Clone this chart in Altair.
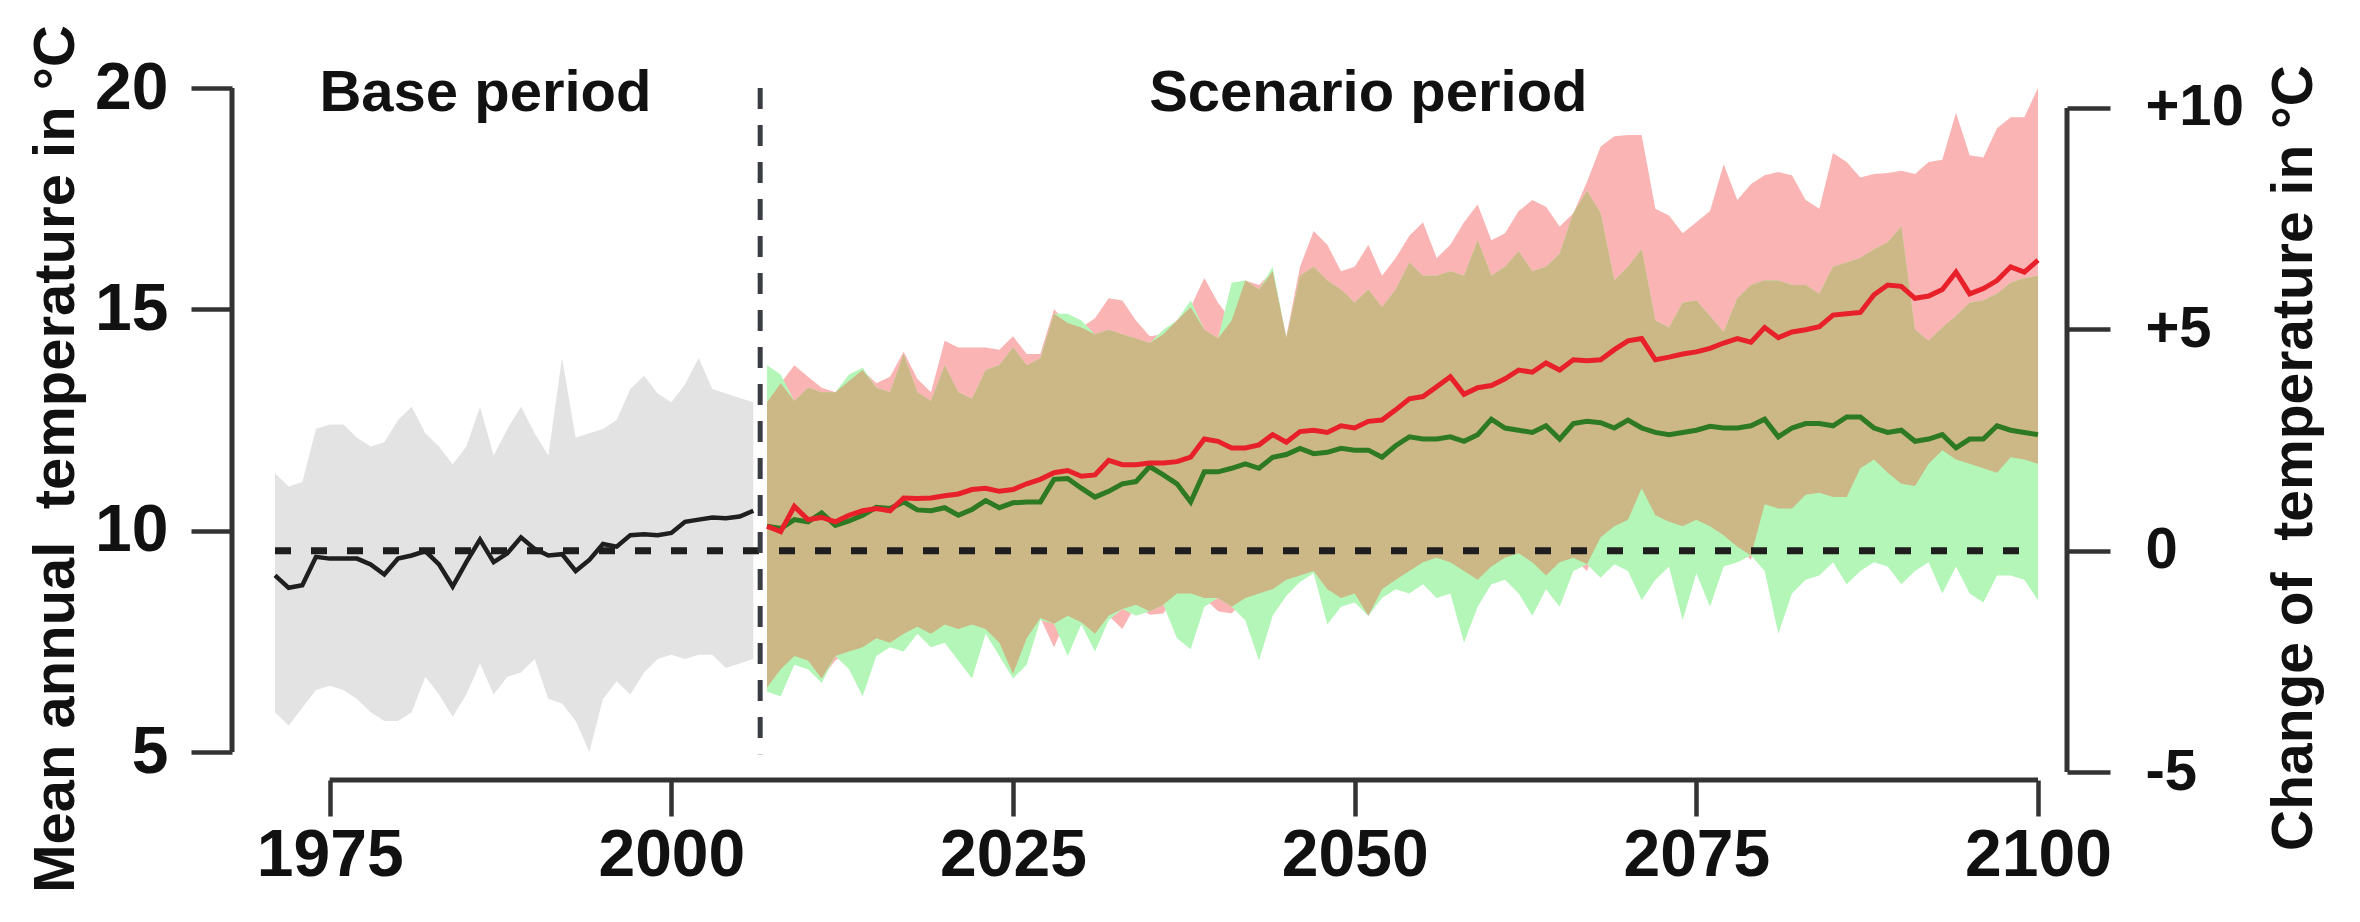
import altair as alt
import pandas as pd

# ---------------- data ----------------
base_years = list(range(1971, 2007))
gray_upper = [11.3, 11.0, 11.1, 12.3, 12.4, 12.4, 12.1, 11.9, 12.0, 12.5,
              12.8, 12.2, 11.9, 11.5, 11.9, 12.8, 11.7, 12.3, 12.8, 12.2,
              11.7, 13.9, 12.1, 12.2, 12.3, 12.5, 13.2, 13.5, 13.1, 12.9,
              13.3, 13.9, 13.2, 13.1, 13.0, 12.9]
gray_lower = [5.9, 5.6, 6.0, 6.4, 6.5, 6.4, 6.2, 5.9, 5.7, 5.7,
              5.9, 6.7, 6.3, 5.8, 6.3, 7.0, 6.3, 6.7, 6.8, 7.1,
              6.2, 6.1, 5.7, 5.0, 6.2, 6.6, 6.3, 6.8, 7.1, 7.2,
              7.1, 7.2, 7.2, 6.9, 7.0, 7.1]
black_mean = [8.99, 8.71, 8.77, 9.41, 9.37, 9.37, 9.37, 9.24, 9.01, 9.37,
              9.44, 9.54, 9.24, 8.74, 9.29, 9.80, 9.29, 9.49, 9.85, 9.59,
              9.44, 9.47, 9.09, 9.34, 9.70, 9.64, 9.90, 9.92, 9.90, 9.95,
              10.20, 10.25, 10.30, 10.28, 10.32, 10.45]

scen_years = list(range(2007, 2101))
red_mean = [10.10, 9.98, 10.55, 10.25, 10.30, 10.20, 10.35, 10.45, 10.50, 10.45,
            10.74, 10.73, 10.74, 10.79, 10.83, 10.93, 10.96, 10.89, 10.93, 11.06,
            11.16, 11.31, 11.36, 11.23, 11.26, 11.59, 11.49, 11.49, 11.53,
            11.53, 11.56, 11.66, 12.07, 12.02, 11.87, 11.87, 11.94, 12.17, 12.00,
            12.24, 12.27, 12.22, 12.37, 12.32, 12.47, 12.50, 12.73, 12.98, 13.03,
            13.25, 13.48, 13.08, 13.23, 13.28, 13.43, 13.63, 13.58, 13.79, 13.63,
            13.86, 13.84,
            13.86, 14.09, 14.29, 14.34, 13.86, 13.92, 13.99, 14.04, 14.12, 14.24,
            14.34, 14.26, 14.59, 14.36, 14.49, 14.54, 14.61, 14.87, 14.90, 14.93,
            15.33, 15.55, 15.52, 15.25, 15.30, 15.45, 15.84, 15.35, 15.47, 15.65,
            15.96, 15.84, 16.11]
green_mean = [10.10, 10.05, 10.25, 10.20, 10.40, 10.12, 10.22, 10.35, 10.53, 10.50,
              10.65, 10.47, 10.45, 10.52, 10.35, 10.48, 10.68, 10.52, 10.63, 10.65,
              10.65, 11.16, 11.18, 10.96, 10.76, 10.89, 11.06, 11.11, 11.45,
              11.26, 11.06, 10.65, 11.33, 11.33, 11.41, 11.51, 11.41, 11.66, 11.72,
              11.86, 11.74, 11.77, 11.86, 11.82, 11.82, 11.66, 11.92, 12.12, 12.07,
              12.07, 12.12, 12.02, 12.17, 12.52, 12.32, 12.27, 12.22, 12.37, 12.07,
              12.42, 12.47,
              12.44, 12.32, 12.50, 12.32, 12.22, 12.17, 12.22, 12.27, 12.36, 12.32,
              12.32, 12.37, 12.52, 12.12, 12.32, 12.42, 12.42, 12.37, 12.57, 12.57,
              12.32, 12.22, 12.27, 12.02, 12.07, 12.17, 11.87, 12.07, 12.07, 12.37,
              12.27, 12.22, 12.17]
red_upper = [12.90, 13.33, 13.74, 13.48, 13.23, 13.13, 13.38, 13.63, 13.33, 13.48,
             14.04, 13.43, 13.13, 14.29, 14.14, 14.14, 14.14, 14.09, 14.39, 13.99,
             13.99, 15.00, 14.69, 14.59, 14.80, 15.25, 15.20, 14.75, 14.39,
             14.44, 14.75, 15.05, 15.71, 15.15, 14.75, 15.65, 15.55, 15.86, 14.39,
             15.96, 16.77, 16.46, 15.86, 15.96, 16.46, 15.76, 16.16, 16.66, 16.97,
             16.16, 16.46, 16.97, 17.37, 16.56, 16.72, 17.22, 17.47, 17.32, 16.87,
             17.17, 17.88,
             18.68, 18.91, 18.94, 18.94, 17.27, 17.12, 16.72, 16.97, 17.22, 18.28,
             17.47, 17.83, 18.03, 18.10, 18.03, 17.47, 17.27, 18.53, 18.33, 17.98,
             18.06, 18.08, 18.13, 18.06, 18.33, 18.38, 19.44, 18.48, 18.43, 19.09,
             19.34, 19.34, 20.00]
red_lower = [6.46, 6.87, 7.17, 7.07, 6.66, 7.07, 7.27, 7.37, 7.57, 7.47,
             7.67, 7.83, 7.67, 7.88, 7.78, 7.88, 7.78, 7.47, 6.77, 7.57,
             8.03, 7.37, 8.08, 7.93, 7.67, 8.08, 7.78, 8.33, 8.10,
             8.13, 8.58, 8.58, 8.48, 8.18, 8.13, 8.48, 8.58, 8.68, 8.89,
             8.99, 9.09, 8.68, 8.48, 8.58, 8.08, 8.68, 8.89, 9.09, 9.29,
             9.39, 9.29, 9.09, 8.89, 9.19, 9.39, 9.49, 9.29, 8.99, 9.29,
             9.39, 9.09,
             9.85, 10.10, 10.25, 10.96, 10.35, 10.20, 10.10, 10.25, 10.10, 9.90,
             9.64, 9.34, 10.60, 10.50, 10.50, 10.81, 10.86, 10.76, 10.76, 11.41,
             11.61, 11.31, 11.06, 11.01, 11.51, 11.82, 11.61, 11.51, 11.41, 11.31,
             11.66, 11.61, 11.51]
green_upper = [13.74, 13.53, 12.93, 13.23, 13.13, 13.13, 13.53, 13.68, 13.23, 13.13,
               13.99, 13.13, 12.93, 13.74, 13.13, 12.98, 13.63, 13.74, 14.14, 13.74,
               13.89, 14.90, 14.90, 14.75, 14.44, 14.54, 14.44, 14.34, 14.24,
               14.54, 14.75, 15.20, 14.54, 14.34, 15.60, 15.65, 15.45, 15.96, 14.34,
               15.76, 15.96, 15.65, 15.45, 15.15, 15.45, 15.05, 15.45, 16.06, 15.76,
               15.76, 15.86, 15.76, 16.56, 15.76, 15.96, 16.31, 15.86, 15.96, 16.26,
               17.17, 17.68,
               17.17, 15.65, 15.96, 16.36, 14.75, 14.59, 15.15, 15.20, 14.85, 14.49,
               15.25, 15.55, 15.65, 15.65, 15.55, 15.55, 15.35, 15.96, 16.06, 16.16,
               16.36, 16.51, 16.87, 14.54, 14.29, 14.59, 14.85, 15.15, 15.20, 15.35,
               15.60, 15.70, 15.76]
green_lower = [6.36, 6.26, 6.97, 6.87, 6.56, 7.17, 6.87, 6.26, 7.17, 7.37,
               7.27, 7.67, 7.37, 7.47, 7.07, 6.66, 7.67, 7.17, 6.66, 6.97,
               7.98, 7.90, 7.17, 7.88, 7.27, 7.98, 8.23, 8.08, 8.18,
               8.33, 7.57, 7.32, 8.28, 8.48, 8.28, 7.98, 7.07, 8.08, 8.53,
               8.84, 9.04, 7.88, 8.28, 8.38, 8.08, 8.48, 8.68, 8.58, 8.79,
               8.48, 8.58, 7.47, 8.28, 8.79, 8.89, 8.58, 8.08, 8.68, 8.28,
               9.09, 9.24,
               8.94, 9.24, 9.09, 8.43, 8.89, 9.19, 7.98, 9.04, 8.28, 9.19,
               9.29, 9.44, 9.09, 7.67, 8.58, 8.89, 8.99, 9.29, 8.79, 9.09,
               9.29, 9.19, 8.79, 9.09, 9.29, 8.58, 9.19, 8.58, 8.38, 8.99,
               8.99, 8.89, 8.43]

baseline_mean = 9.55          # reference level (0 on the right axis)
split_year = 2006.5           # boundary base / scenario period
x_ticks = [1975, 2000, 2025, 2050, 2075, 2100]
left_ticks = [5, 10, 15, 20]
right_ticks = [-5, 0, 5, 10]

# ---------------- tables ----------------
base_df = pd.DataFrame({"year": base_years, "lo": gray_lower,
                        "hi": gray_upper, "mean": black_mean})
ov_lo = [max(a, b) for a, b in zip(red_lower, green_lower)]
ov_hi = [max(min(a, b), lo) for a, b, lo in zip(red_upper, green_upper, ov_lo)]
scen_df = pd.DataFrame({"year": scen_years,
                        "r_lo": red_lower, "r_hi": red_upper,
                        "g_lo": green_lower, "g_hi": green_upper,
                        "o_lo": ov_lo, "o_hi": ov_hi,
                        "r_mean": red_mean, "g_mean": green_mean})
hline_df = pd.DataFrame({"x": [1971], "x2": [2100], "y": [baseline_mean]})
vline_df = pd.DataFrame({"x": [split_year], "y": [20.0], "y2": [4.95]})
xaxis_df = pd.DataFrame({"x": [x_ticks[0]], "x2": [x_ticks[-1]]})
laxis_df = pd.DataFrame({"y": [left_ticks[0]], "y2": [left_ticks[-1]]})
raxis_df = pd.DataFrame({"y": [right_ticks[0]], "y2": [right_ticks[-1]]})
period_df = pd.DataFrame({"year": [1986.4, 2051.0], "t": [19.48, 19.48],
                          "label": ["Base period", "Scenario period"]})
one = pd.DataFrame({"k": [0]})

# ---------------- style ----------------
FONT = "Liberation Sans, Arial, Helvetica, sans-serif"
PLOT_W, PLOT_H = 1763, 684
AX = "#333333"
TXT = "#111111"

xscale = alt.Scale(domain=[1971, 2100], nice=False, zero=False)
yscale = alt.Scale(domain=[4.55, 20.0], nice=False, zero=False)
rscale = alt.Scale(domain=[4.55 - baseline_mean, 20.0 - baseline_mean], nice=False, zero=False)

xaxis = alt.Axis(values=x_ticks, format="d", offset=8, domain=False, grid=False,
                 tickSize=36, tickWidth=4.5, tickColor=AX,
                 labelFont=FONT, labelFontWeight="bold", labelFontSize=66,
                 labelColor=TXT, labelPadding=7, labelFlush=False, labelOverlap=False)
yaxis = alt.Axis(values=left_ticks, orient="left", offset=43, domain=False, grid=False,
                 tickSize=41, tickWidth=4.5, tickColor=AX,
                 labelFont=FONT, labelFontWeight="bold", labelFontSize=66,
                 labelColor=TXT, labelPadding=23, labelFlush=False, labelOverlap=False)
raxis = alt.Axis(values=right_ticks, orient="right", offset=29, domain=False, grid=False,
                 tickSize=43, tickWidth=4.5, tickColor=AX,
                 labelFont=FONT, labelFontWeight="bold", labelFontSize=58,
                 labelColor=TXT, labelPadding=35, labelFlush=False, labelOverlap=False,
                 labelExpr="datum.value > 0 ? '+' + datum.value : '' + datum.value")


def X(f):
    return alt.X(f"{f}:Q", scale=xscale, axis=xaxis, title=None)


def Y(f):
    return alt.Y(f"{f}:Q", scale=yscale, axis=yaxis, title=None)


gray = alt.Chart(base_df).mark_area(color="#E3E3E3").encode(
    x=X("year"), y=Y("lo"), y2="hi")
pink = alt.Chart(scen_df).mark_area(color="#FBB4B4").encode(
    x=X("year"), y=Y("r_lo"), y2="r_hi")
green = alt.Chart(scen_df).mark_area(color="#B4F6B8").encode(
    x=X("year"), y=Y("g_lo"), y2="g_hi")
tan = alt.Chart(scen_df).mark_area(color="#CCB786").encode(
    x=X("year"), y=Y("o_lo"), y2="o_hi")

hline = alt.Chart(hline_df).mark_rule(color="#1e1e1e", strokeWidth=7,
                                      strokeDash=[16, 20]).encode(
    x=X("x"), x2="x2", y=Y("y"))
vline = alt.Chart(vline_df).mark_rule(color="#3a3c44", strokeWidth=5,
                                      strokeDash=[21, 16]).encode(
    x=X("x"), y=Y("y"), y2="y2")

black = alt.Chart(base_df).mark_line(color="#1f1f1f", strokeWidth=4.5).encode(
    x=X("year"), y=Y("mean"))
gline = alt.Chart(scen_df).mark_line(color="#2E7A22", strokeWidth=5).encode(
    x=X("year"), y=Y("g_mean"))
rline = alt.Chart(scen_df).mark_line(color="#E8202A", strokeWidth=5).encode(
    x=X("year"), y=Y("r_mean"))

periods = alt.Chart(period_df).mark_text(font=FONT, fontWeight="bold", fontSize=58,
                                         color=TXT, align="center",
                                         baseline="alphabetic").encode(
    x=X("year"), y=Y("t"), text="label:N")

x_line = alt.Chart(xaxis_df).mark_rule(color=AX, strokeWidth=5).encode(
    x=X("x"), x2="x2", y=alt.value(PLOT_H + 8))
l_line = alt.Chart(laxis_df).mark_rule(color=AX, strokeWidth=5).encode(
    x=alt.value(-43), y=Y("y"), y2="y2")

left_title = alt.Chart(one).mark_text(
    text="Mean annual\u00a0\u00a0temperature in °C", font=FONT, fontWeight="bold",
    fontSize=58, color=TXT, angle=270, align="center", baseline="middle").encode(
    x=alt.value(-218), y=alt.value(371))
right_title = alt.Chart(one).mark_text(
    text="Change of\u00a0\u00a0temperature in °C", font=FONT, fontWeight="bold",
    fontSize=57, color=TXT, angle=270, align="center", baseline="middle").encode(
    x=alt.value(2020), y=alt.value(370))

left = alt.layer(gray, pink, green, tan, hline, vline, black, gline, rline,
                 periods, x_line, l_line, left_title, right_title)

r_line = alt.Chart(raxis_df).mark_rule(color=AX, strokeWidth=5).encode(
    x=alt.value(PLOT_W + 29),
    y=alt.Y("y:Q", scale=rscale, axis=raxis, title=None), y2="y2")

chart = alt.layer(left, r_line).resolve_scale(y="independent").properties(
    width=PLOT_W, height=PLOT_H,
    autosize=alt.AutoSizeParams(type="none"),
    padding={"left": 267, "top": 80, "right": 300, "bottom": 130},
    background="white",
).configure_view(stroke=None)

chart.save("out.html", embed_options={"renderer": "svg", "actions": False})
